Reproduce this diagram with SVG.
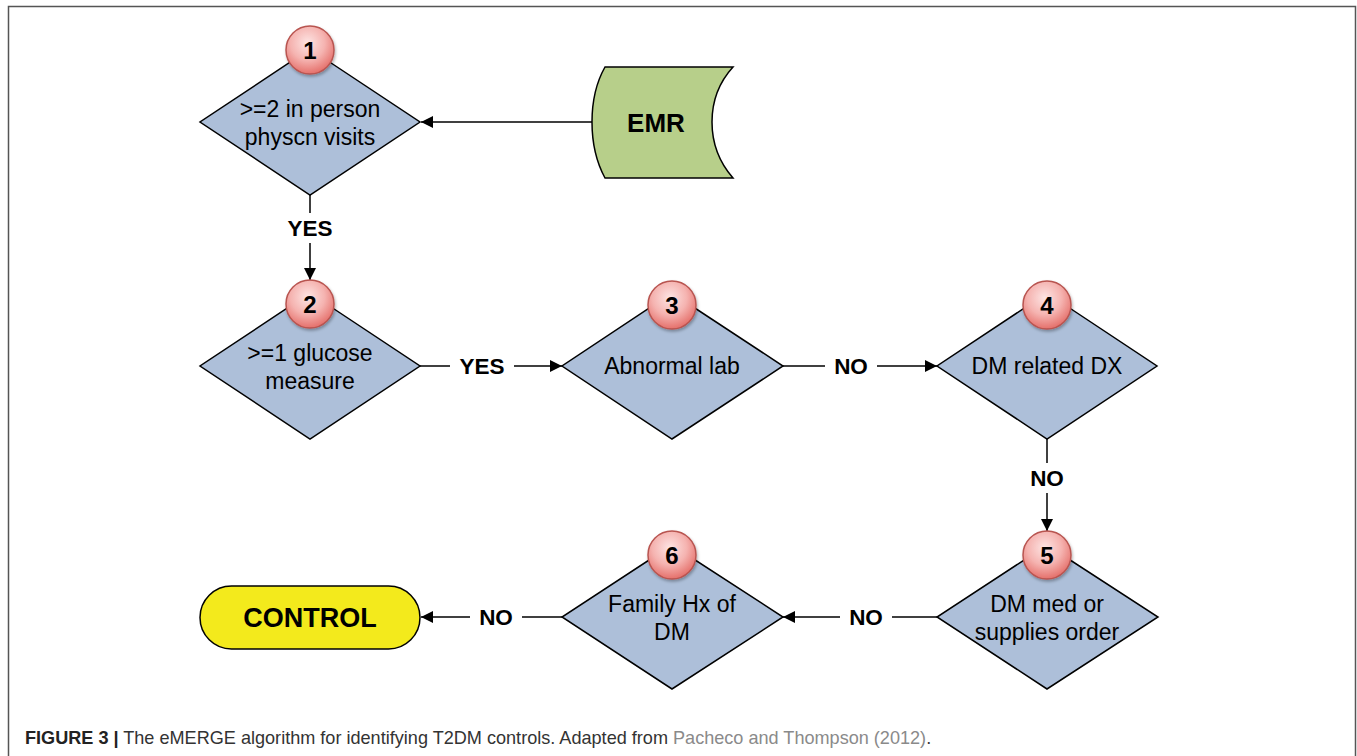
<svg xmlns="http://www.w3.org/2000/svg" width="1357" height="756" viewBox="0 0 1357 756">
<defs>
<radialGradient id="cg" cx="0.45" cy="0.35" r="0.65">
<stop offset="0" stop-color="#fde4e3"/>
<stop offset="0.55" stop-color="#f5b3b0"/>
<stop offset="1" stop-color="#e5706b"/>
</radialGradient>
<marker id="ah" viewBox="0 0 10 10" refX="10" refY="5" markerWidth="12" markerHeight="12" markerUnits="userSpaceOnUse" orient="auto">
<path d="M0,0 L10,5 L0,10 Z" fill="#000"/>
</marker>
<filter id="sh" x="-20%" y="-20%" width="140%" height="140%">
<feDropShadow dx="1" dy="2" stdDeviation="1.5" flood-color="#000" flood-opacity="0.3"/>
</filter>
</defs>
<style>
.dia{fill:#adbfd9;stroke:#000;stroke-width:1.5}
.num{fill:url(#cg);stroke:#b85450;stroke-width:1.5}
.numt{font-family:"Liberation Sans",Arial,sans-serif;font-size:24px;font-weight:bold;fill:#000;text-anchor:middle}
.t{font-family:"Liberation Sans",Arial,sans-serif;font-size:23px;fill:#000;text-anchor:middle}
.lbl{font-family:"Liberation Sans",Arial,sans-serif;font-size:22.5px;font-weight:bold;fill:#000;text-anchor:middle}
.big{font-family:"Liberation Sans",Arial,sans-serif;font-weight:bold;fill:#000;text-anchor:middle}
.ln{fill:none;stroke:#000;stroke-width:1.5;marker-end:url(#ah)}
.cap{font-family:"Liberation Sans",Arial,sans-serif;font-size:18.1px;fill:#333}
</style>
<rect width="1357" height="756" fill="#fff"/>
<path d="M8.5,756 V6.5 H1355.5 V756" fill="none" stroke="#555" stroke-width="1.5"/>

<g id="connectors">
<line class="ln" x1="592" y1="122" x2="421" y2="122"/>
<line class="ln" x1="310" y1="195" x2="310" y2="280"/>
<rect x="280" y="213" width="60" height="30" fill="#fff"/>
<text class="lbl" x="310" y="236">YES</text>
<line class="ln" x1="420" y1="366" x2="562" y2="366"/>
<rect x="450" y="351" width="64" height="30" fill="#fff"/>
<text class="lbl" x="482" y="374">YES</text>
<line class="ln" x1="783" y1="366" x2="937" y2="366"/>
<rect x="825" y="351" width="52" height="30" fill="#fff"/>
<text class="lbl" x="851" y="374">NO</text>
<line class="ln" x1="1047" y1="439" x2="1047" y2="531"/>
<rect x="1021" y="463" width="52" height="30" fill="#fff"/>
<text class="lbl" x="1047" y="486">NO</text>
<line class="ln" x1="937" y1="617" x2="783" y2="617"/>
<rect x="840" y="602" width="52" height="30" fill="#fff"/>
<text class="lbl" x="866" y="625">NO</text>
<line class="ln" x1="562" y1="617" x2="421" y2="617"/>
<rect x="470" y="602" width="52" height="30" fill="#fff"/>
<text class="lbl" x="496" y="625">NO</text>
</g>

<g id="emr">
<path d="M605,67 H733 Q712,90 712,122 Q712,154 733,178 H605 Q592,154 592,122 Q592,90 605,67 Z" fill="#b7cf8a" stroke="#000" stroke-width="1.5"/>
<text class="big" x="656" y="132" style="font-size:26px">EMR</text>
</g>

<g id="control">
<rect x="200" y="586" width="220" height="63" rx="31.5" fill="#f3ea1c" stroke="#000" stroke-width="1.5"/>
<text class="big" x="310" y="627" style="font-size:27px">CONTROL</text>
</g>

<g id="node1">
<polygon class="dia" points="310,49 420,122 310,195 200,122"/>
<circle class="num" cx="310" cy="50" r="24" filter="url(#sh)"/>
<text class="numt" x="310" y="59">1</text>
<text class="t" x="310" y="117">&gt;=2 in person</text>
<text class="t" x="310" y="145">physcn visits</text>
</g>

<g id="node2">
<polygon class="dia" points="310,293 420,366 310,439 200,366"/>
<circle class="num" cx="310" cy="304" r="24" filter="url(#sh)"/>
<text class="numt" x="310" y="313">2</text>
<text class="t" x="310" y="361">&gt;=1 glucose</text>
<text class="t" x="310" y="389">measure</text>
</g>

<g id="node3">
<polygon class="dia" points="672,293 783,366 672,439 562,366"/>
<circle class="num" cx="672" cy="305" r="24" filter="url(#sh)"/>
<text class="numt" x="672" y="314">3</text>
<text class="t" x="672" y="374">Abnormal lab</text>
</g>

<g id="node4">
<polygon class="dia" points="1047,293 1157,366 1047,439 937,366"/>
<circle class="num" cx="1047" cy="305" r="24" filter="url(#sh)"/>
<text class="numt" x="1047" y="314">4</text>
<text class="t" x="1047" y="374">DM related DX</text>
</g>

<g id="node5">
<polygon class="dia" points="1047,545 1158,617 1047,689 937,617"/>
<circle class="num" cx="1047" cy="555" r="24" filter="url(#sh)"/>
<text class="numt" x="1047" y="564">5</text>
<text class="t" x="1047" y="612">DM med or</text>
<text class="t" x="1047" y="640">supplies order</text>
</g>

<g id="node6">
<polygon class="dia" points="672,545 783,617 672,689 562,617"/>
<circle class="num" cx="672" cy="555" r="24" filter="url(#sh)"/>
<text class="numt" x="672" y="564">6</text>
<text class="t" x="672" y="612">Family Hx of</text>
<text class="t" x="672" y="640">DM</text>
</g>

<text class="cap" x="25" y="744"><tspan font-weight="bold" fill="#222">FIGURE 3 |</tspan> The eMERGE algorithm for identifying T2DM controls. Adapted from <tspan fill="#8a8a8a">Pacheco and Thompson (2012)</tspan>.</text>
</svg>
